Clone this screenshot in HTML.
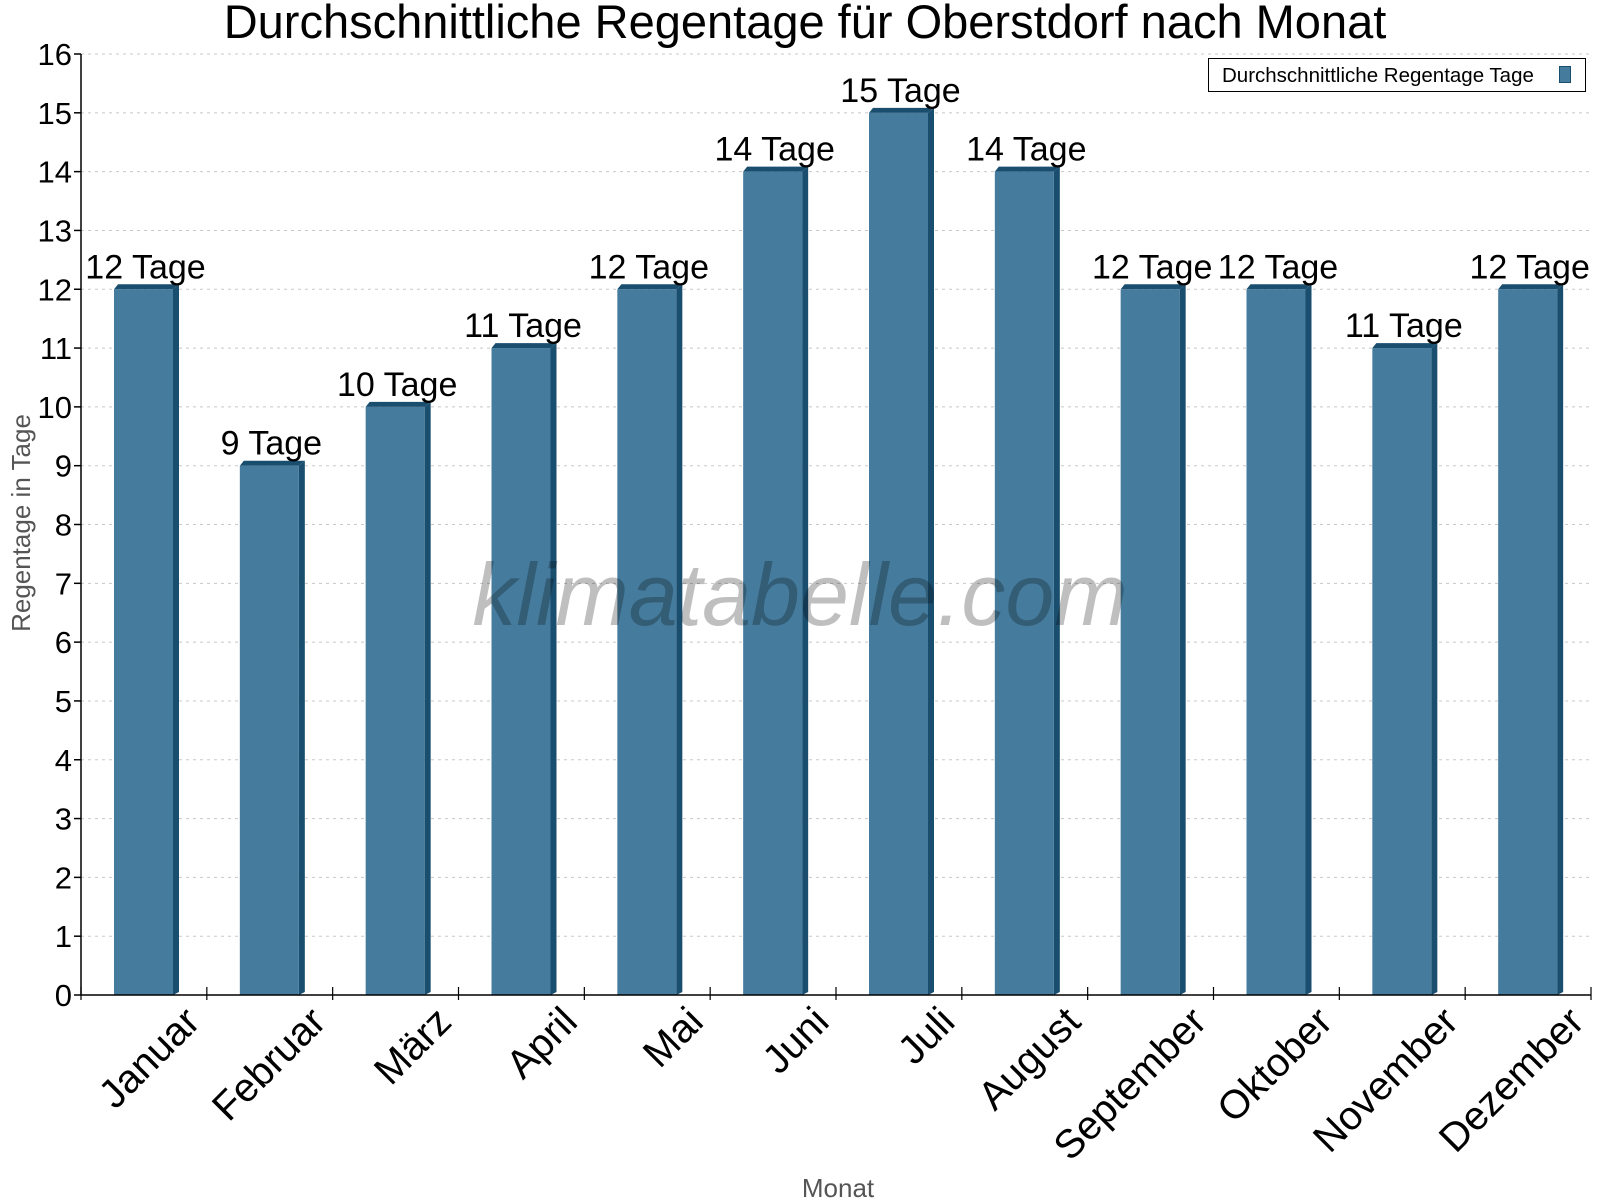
<!DOCTYPE html>
<html><head><meta charset="utf-8"><style>body{margin:0;background:#fff}svg{display:block}</style></head>
<body>
<svg width="1600" height="1200" xmlns="http://www.w3.org/2000/svg" font-family="Liberation Sans, Arial, sans-serif">
<rect width="1600" height="1200" fill="#fff"/>
<g id="grid" stroke="#c8c8c8" stroke-dasharray="3,4" stroke-width="1">
</g>
<g id="bars"></g>
<text x="800" y="625" font-size="88" font-style="italic" fill="#000" fill-opacity="0.25" text-anchor="middle">klimatabelle.com</text>
<g id="axes"></g>
<text x="805" y="38" font-size="47" text-anchor="middle" fill="#000">Durchschnittliche Regentage für Oberstdorf nach Monat</text>
<text x="838" y="1197" font-size="26" text-anchor="middle" fill="#555">Monat</text>
<text transform="translate(30,523) rotate(-90)" font-size="26" text-anchor="middle" fill="#555">Regentage in Tage</text>
<rect x="1208.5" y="58.5" width="377" height="33" fill="#fff" stroke="#000"/>
<text x="1222" y="82" font-size="20.5" fill="#000">Durchschnittliche Regentage Tage</text>
<rect x="1559.5" y="66.5" width="11" height="16" fill="#457b9d" stroke="#1a4e6e"/>
<script>
const vals=[12,9,10,11,12,14,15,14,12,12,11,12];
const names=["Januar","Februar","März","April","Mai","Juni","Juli","August","September","Oktober","November","Dezember"];
const ns="http://www.w3.org/2000/svg";
const x0=81,x1=1591,y0=995,u=(995-54)/16,cw=(x1-x0)/12;
function el(p,t,a,txt){const e=document.createElementNS(ns,t);for(const k in a)e.setAttribute(k,a[k]);if(txt!==undefined)e.textContent=txt;p.appendChild(e);return e;}
const g=document.getElementById('grid'),b=document.getElementById('bars'),ax=document.getElementById('axes');
for(let i=1;i<=16;i++){const y=y0-i*u;el(g,'line',{x1:x0,x2:x1,y1:y,y2:y});}
vals.forEach((v,i)=>{
 const bx=x0+i*cw+33,w=59,y=y0-v*u,d=6;
 el(b,'polygon',{points:`${bx+w},${y} ${bx+w+d},${y-5} ${bx+w+d},${y0-3} ${bx+w},${y0}`,fill:'#1a4e6e'});
 el(b,'polygon',{points:`${bx},${y} ${bx+4},${y-5} ${bx+w+d},${y-5} ${bx+w},${y}`,fill:'#1a4e6e'});
 el(b,'rect',{x:bx,y:y,width:w,height:y0-y,fill:'#457b9d'});
 el(b,'text',{x:bx+w/2+2,y:y-11,'font-size':34,'text-anchor':'middle',fill:'#000'},v+' Tage');
 const cx=x0+i*cw+cw/2;
 el(ax,'text',{x:cx+58,y:1024,'font-size':40,'text-anchor':'end',fill:'#000',transform:`rotate(-45 ${cx+58} 1024)`},names[i]);
});
el(ax,'line',{x1:x0,x2:x0,y1:54,y2:y0,stroke:'#000','stroke-width':1.5});
el(ax,'line',{x1:x0,x2:x1,y1:y0,y2:y0,stroke:'#000','stroke-width':1.5});
for(let i=0;i<=16;i++){const y=y0-i*u;el(ax,'line',{x1:x0-7,x2:x0,y1:y,y2:y,stroke:'#000','stroke-width':1.5});
 el(ax,'text',{x:x0-9,y:y+11,'font-size':31,'text-anchor':'end',fill:'#000'},i);}
for(let i=0;i<=12;i++){const x=x0+i*cw;el(ax,'line',{x1:x,x2:x,y1:y0-8,y2:y0+5,stroke:'#000','stroke-width':1.2});}
</script>
</svg>
</body></html>
